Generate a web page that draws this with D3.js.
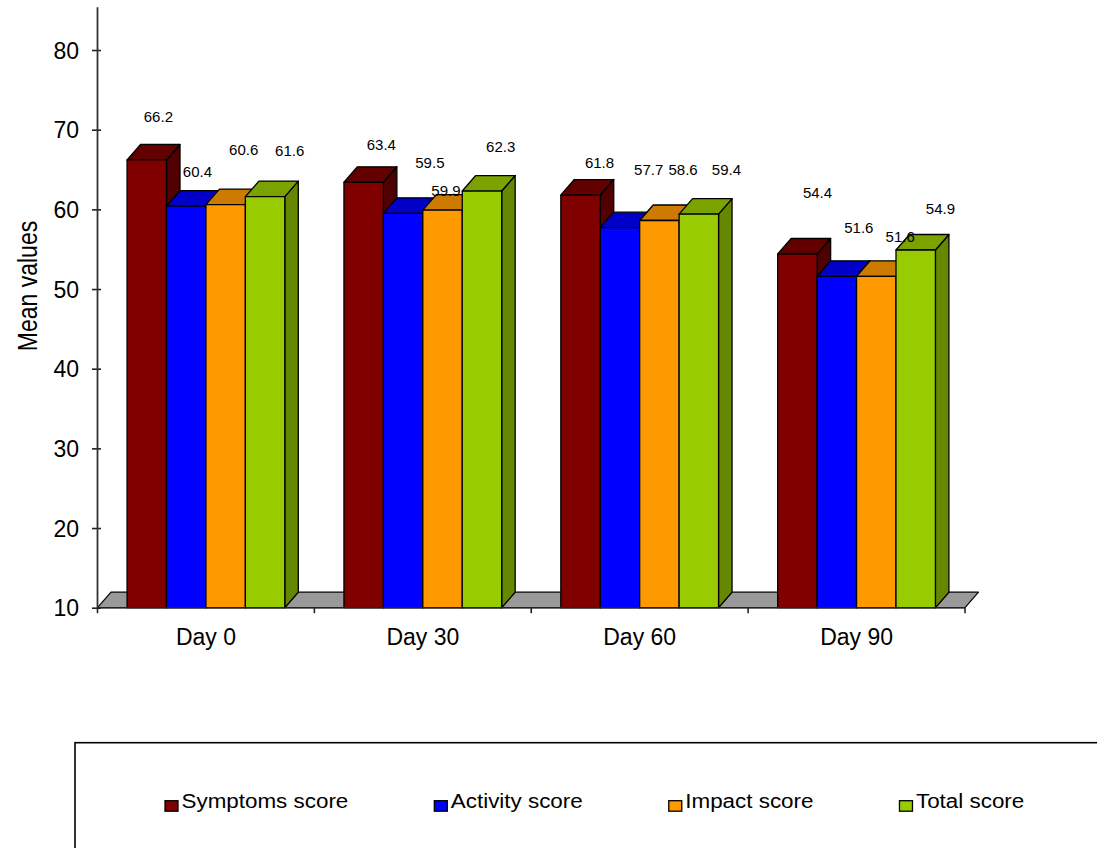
<!DOCTYPE html>
<html>
<head>
<meta charset="utf-8">
<script src="https://cdn.jsdelivr.net/npm/d3@7"></script>
<style>
  html, body { margin: 0; padding: 0; background: #fff; }
  svg { display: block; font-family: "Liberation Sans", Arial, sans-serif; }
</style>
</head>
<body>
<svg id="chart" width="1097" height="848"></svg>
<script>
// Mean scores per visit
const categories = ["Day 0", "Day 30", "Day 60", "Day 90"];
const seriesNames = ["Symptoms score", "Activity score", "Impact score", "Total score"];
const symptoms = [66.2, 63.4, 61.8, 54.4];
const activity = [60.4, 59.5, 57.7, 51.6];
const impact = [60.6, 59.9, 58.6, 51.6];
const total = [61.6, 62.3, 59.4, 54.9];
const yTicks = [10, 20, 30, 40, 50, 60, 70, 80];
const yMin = 10, yMax = 85;

const seriesValues = [symptoms, activity, impact, total];
const frontColors = ["#800000", "#0000ff", "#ff9900", "#99cc00"];
const topColors = ["#620000", "#0000c8", "#cc7a00", "#7aa300"];
const sideColors = ["#500000", "#0000a0", "#a86500", "#668800"];

// Hand placement of the value labels, relative to each column's front top centre
const labelNudge = [
  [[11.6, -42.9], [17.7, -37.8], [19, -32.2], [20.1, -60.8]],
  [[11.2, -34.5], [26.8, -50.5], [28.7, -58], [22, -48.8]],
  [[18, -54.4], [3.4, -19], [23.7, -50.5], [23.9, -39.5]],
  [[24.6, -46.4], [18.7, -44.8], [27.6, -44], [24.7, -40.8]]
];

const svg = d3.select("#chart");
const left = 97.5, right = 965, floorY = 607.7, topY = 10.2;
const depthX = 13.5, depthY = 15.5;

const x0 = d3.scaleBand().domain(categories).range([left, right]).paddingInner(0).paddingOuter(0);
const x1 = d3.scaleBand().domain(seriesNames).range([0, x0.bandwidth()]).paddingInner(0).paddingOuter(0.75);
const y = d3.scaleLinear().domain([yMin, yMax]).range([floorY, topY]);

const poly = pts => pts.map(p => p.join(",")).join(" ");

// floor
svg.append("polygon")
  .attr("points", poly([[left, floorY], [right, floorY], [right + depthX, floorY - depthY], [left + depthX, floorY - depthY]]))
  .attr("fill", "#999999").attr("stroke", "#000").attr("stroke-width", 1.2).attr("stroke-linejoin", "round");

// columns, painted left to right so each front face covers its neighbour's side
const bars = svg.append("g");
categories.forEach((cat, c) => {
  seriesNames.forEach((name, s) => {
    const v = seriesValues[s][c];
    const xl = x0(cat) + x1(name);
    const xr = xl + x1.bandwidth();
    const yt = y(v);
    const g = bars.append("g").attr("stroke", "#000").attr("stroke-width", 1.3).attr("stroke-linejoin", "round");
    g.append("polygon")
      .attr("points", poly([[xr, yt], [xr + depthX, yt - depthY], [xr + depthX, floorY - depthY], [xr, floorY]]))
      .attr("fill", sideColors[s]);
    g.append("polygon")
      .attr("points", poly([[xl, yt], [xr, yt], [xr + depthX, yt - depthY], [xl + depthX, yt - depthY]]))
      .attr("fill", topColors[s]);
    g.append("rect")
      .attr("x", xl).attr("y", yt).attr("width", xr - xl).attr("height", floorY - yt)
      .attr("fill", frontColors[s]);
  });
});

// value labels
const labels = svg.append("g").attr("font-size", 15).attr("fill", "#000").attr("text-anchor", "middle");
categories.forEach((cat, c) => {
  seriesNames.forEach((name, s) => {
    const v = seriesValues[s][c];
    const cx = x0(cat) + x1(name) + x1.bandwidth() / 2;
    const [dx, dy] = labelNudge[s][c];
    labels.append("text")
      .attr("x", cx + dx).attr("y", y(v) + dy + 5.3)
      .text(d3.format(".1f")(v));
  });
});

// y axis
const yAxis = d3.axisLeft(y).tickValues(yTicks).tickSize(0).tickPadding(0).tickFormat(d3.format("d"));
const ya = svg.append("g").attr("transform", `translate(${left},0)`).call(yAxis);
ya.select(".domain").remove();
ya.selectAll(".tick text").attr("x", -18.5).attr("dy", "0.36em").attr("font-size", 23)
  .attr("font-family", "Liberation Sans, Arial, sans-serif").attr("fill", "#000");
ya.selectAll(".tick").append("line").attr("x1", -5.5).attr("x2", 3.5).attr("stroke", "#222").attr("stroke-width", 1.6);
svg.append("line").attr("x1", left).attr("x2", left).attr("y1", y(yMax) - 3).attr("y2", floorY)
  .attr("stroke", "#333").attr("stroke-width", 1.8);

// x axis
const xAxis = d3.axisBottom(x0).tickSize(0).tickPadding(0);
const xa = svg.append("g").attr("transform", `translate(0,${floorY})`).call(xAxis);
xa.select(".domain").remove();
xa.selectAll(".tick text").attr("y", 37.5).attr("dy", 0).attr("font-size", 23)
  .attr("font-family", "Liberation Sans, Arial, sans-serif").attr("fill", "#000");
const boundaries = categories.map(c => x0(c)).concat([right]);
svg.append("g").selectAll("line").data(boundaries).join("line")
  .attr("x1", d => d).attr("x2", d => d).attr("y1", floorY).attr("y2", floorY + 5.5)
  .attr("stroke", "#222").attr("stroke-width", 1.6);
svg.append("line").attr("x1", left).attr("x2", right).attr("y1", floorY).attr("y2", floorY)
  .attr("stroke", "#222").attr("stroke-width", 1.4);

// y title
svg.append("text")
  .attr("transform", "translate(37,286) rotate(-90) scale(1,1.2)")
  .attr("text-anchor", "middle").attr("font-size", 23).attr("fill", "#000")
  .text("Mean values");

// legend
svg.append("rect").attr("x", 75).attr("y", 742.7).attr("width", 1100).attr("height", 200)
  .attr("fill", "none").attr("stroke", "#000").attr("stroke-width", 1.6);
const legend = svg.append("g");
let lx = 165;
seriesNames.forEach((name, s) => {
  legend.append("rect").attr("x", lx).attr("y", 800.7).attr("width", 13).attr("height", 10.5)
    .attr("fill", frontColors[s]).attr("stroke", "#000").attr("stroke-width", 1.3);
  const t = legend.append("text").attr("x", lx + 16.5).attr("y", 807.5)
    .attr("font-size", 20).attr("fill", "#000").text(name);
  const w = t.node().getComputedTextLength() * 1.12;
  t.attr("textLength", w).attr("lengthAdjust", "spacingAndGlyphs");
  lx += 16.5 + w + 86;
});
</script>
</body>
</html>
